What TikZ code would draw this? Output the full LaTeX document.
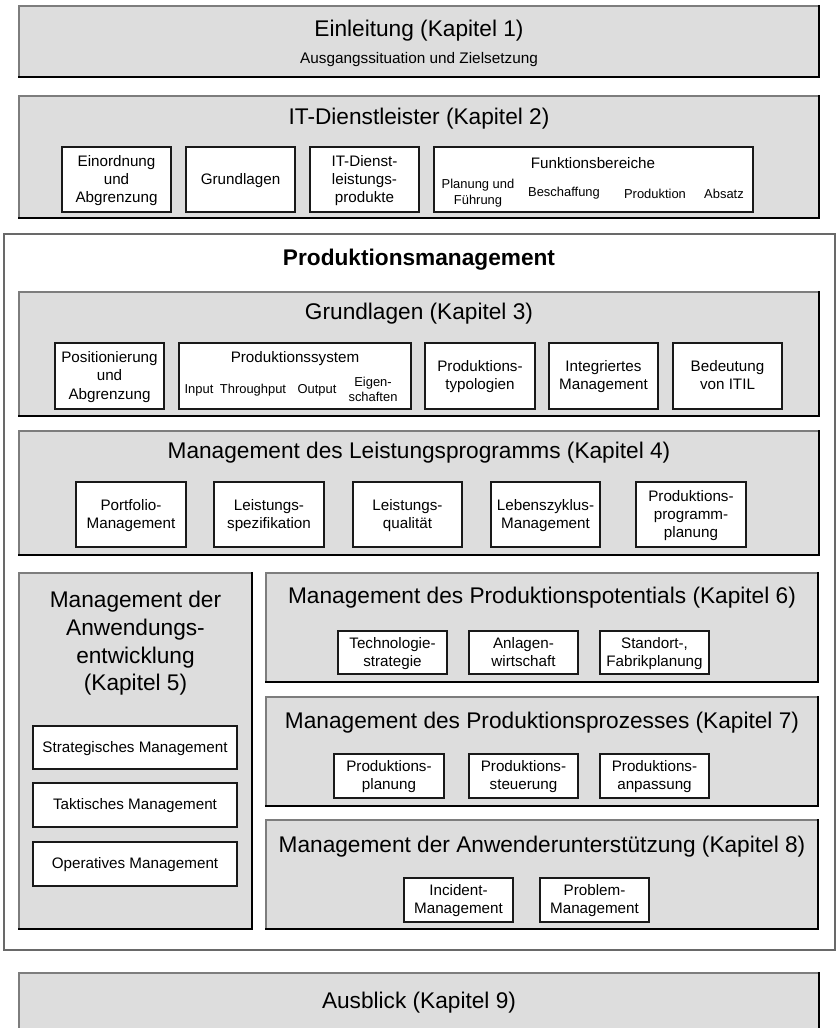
\documentclass[tikz,border=0pt]{standalone}
\usepackage{fontspec}
\setmainfont{Liberation Sans}
\definecolor{boxgray}{RGB}{221,221,221}
\definecolor{lightedge}{RGB}{125,125,125}
\definecolor{outeredge}{RGB}{105,105,105}
\newcommand\mybox[7]{%
  \node[#6, minimum width={(#4-#2)*0.75pt}, minimum height={(#5-#3)*0.75pt}]
    (#1) at ({(#2+#4)/2},{(#3+#5)/2}) {#7};}
\newcommand\mygbox[5]{%
  \mybox{#1}{#2}{#3}{#4}{#5}{gbox}{}
  \draw[topedge] (#1.south west) |- (#1.north east);
  \draw[botedge] (#1.south west) -| (#1.north east);}
\begin{document}
\begin{tikzpicture}[x=0.75pt, y=-0.75pt,
  gbox/.style={fill=boxgray, inner sep=0pt, outer sep=0pt},
  topedge/.style={draw=lightedge, line width=0.8pt},
  botedge/.style={draw=black, line width=1.0pt, line cap=rect},
  wbox/.style={draw=black!90, fill=white, line width=0.85pt, inner sep=0pt, outer sep=0pt,
    align=center, text depth=1pt, font=\fontsize{11.4}{13.7}\selectfont},
  obox/.style={draw=outeredge, fill=white, line width=0.9pt, inner sep=0pt, outer sep=0pt},
  title/.style={inner sep=0pt, font=\fontsize{17}{20.8}\selectfont, align=center},
  sub/.style={inner sep=0pt, font=\fontsize{9.7}{11.5}\selectfont, align=center},
  mid/.style={inner sep=0pt, font=\fontsize{11.4}{13.7}\selectfont, align=center}]
\useasboundingbox (0,0) rectangle (836,1028);
\fill[white] (0,0) rectangle (836,1028);

% Kapitel 1
\mygbox{k1}{19}{6}{819}{77}
\node[title] (k1t) at (419,31) {Einleitung (Kapitel 1)};
\node[mid, font=\fontsize{11.5}{13}\selectfont] (k1s) at (419,60) {Ausgangssituation und Zielsetzung};

% Kapitel 2
\mygbox{k2}{19}{96}{819}{218}
\node[title] (k2t) at (419,119) {IT-Dienstleister (Kapitel 2)};
\mybox{k2a}{62}{147}{171}{212}{wbox}{Einordnung\\und\\Abgrenzung}
\mybox{k2b}{186}{147}{295}{212}{wbox}{Grundlagen}
\mybox{k2c}{310}{147}{419}{212}{wbox}{IT-Dienst-\\leistungs-\\produkte}
\mybox{k2d}{434}{147}{753}{212}{wbox}{}
\node[mid] (k2dt) at (593,163) {Funktionsbereiche};
\node[sub, font=\fontsize{9.7}{12}\selectfont] (k2d1) at (478,193.5) {Planung und\\Führung};
\node[sub] (k2d2) at (564,193.5) {Beschaffung};
\node[sub] (k2d3) at (655,193.5) {Produktion};
\node[sub] (k2d4) at (724,193.5) {Absatz};

% Produktionsmanagement
\mybox{pm}{4}{234}{835}{950}{obox}{}
\node[inner sep=0pt, font=\fontsize{17}{20}\selectfont\bfseries] (pmt) at (419,260) {Produktionsmanagement};

% Kapitel 3
\mygbox{k3}{19}{292}{819}{416}
\node[title] (k3t) at (419,314) {Grundlagen (Kapitel 3)};
\mybox{k3a}{55}{343}{164}{409}{wbox}{Positionierung\\und\\Abgrenzung}
\mybox{k3b}{179}{343}{411}{409}{wbox}{}
\node[mid] (k3bt) at (295,358.5) {Produktionssystem};
\node[sub] (k3b1) at (199,390) {Input};
\node[sub] (k3b2) at (253,390) {Throughput};
\node[sub] (k3b3) at (317,390) {Output};
\node[sub, font=\fontsize{9.7}{10.8}\selectfont] (k3b4) at (373,389.5) {Eigen-\\schaften};
\mybox{k3c}{425}{343}{535}{409}{wbox}{Produktions-\\typologien}
\mybox{k3d}{549}{343}{658}{409}{wbox}{Integriertes\\Management}
\mybox{k3e}{673}{343}{782}{409}{wbox}{Bedeutung\\von ITIL}

% Kapitel 4
\mygbox{k4}{19}{431}{819}{555}
\node[title] (k4t) at (419,453) {Management des Leistungsprogramms (Kapitel 4)};
\mybox{k4a}{76}{482}{186}{547}{wbox}{Portfolio-\\Management}
\mybox{k4b}{214}{482}{324}{547}{wbox}{Leistungs-\\spezifikation}
\mybox{k4c}{353}{482}{462}{547}{wbox}{Leistungs-\\qualität}
\mybox{k4d}{491}{482}{600}{547}{wbox}{Lebenszyklus-\\Management}
\mybox{k4e}{636}{482}{746}{547}{wbox}{Produktions-\\programm-\\planung}

% Kapitel 5
\mygbox{k5}{19}{573}{252}{929}
\node[title] (k5t) at (135.5,643.5) {Management der\\Anwendungs-\\entwicklung\\(Kapitel 5)};
\mybox{k5a}{33}{726}{237}{769}{wbox}{Strategisches Management}
\mybox{k5b}{33}{783}{237}{827}{wbox}{Taktisches Management}
\mybox{k5c}{33}{842}{237}{886}{wbox}{Operatives Management}

% Kapitel 6
\mygbox{k6}{266}{573}{818}{682}
\node[title] (k6t) at (542,598) {Management des Produktionspotentials (Kapitel 6)};
\mybox{k6a}{338}{631}{447}{674}{wbox}{Technologie-\\strategie}
\mybox{k6b}{469}{631}{578}{674}{wbox}{Anlagen-\\wirtschaft}
\mybox{k6c}{600}{631}{709}{674}{wbox}{Standort-,\\Fabrikplanung}

% Kapitel 7
\mygbox{k7}{266}{697}{818}{806}
\node[title] (k7t) at (542,723) {Management des Produktionsprozesses (Kapitel 7)};
\mybox{k7a}{334}{754}{444}{798}{wbox}{Produktions-\\planung}
\mybox{k7b}{469}{754}{578}{798}{wbox}{Produktions-\\steuerung}
\mybox{k7c}{600}{754}{709}{798}{wbox}{Produktions-\\anpassung}

% Kapitel 8
\mygbox{k8}{266}{820}{818}{929}
\node[title] (k8t) at (542,847) {Management der Anwenderunterstützung (Kapitel 8)};
\mybox{k8a}{404}{878}{513}{922}{wbox}{Incident-\\Management}
\mybox{k8b}{540}{878}{649}{922}{wbox}{Problem-\\Management}

% Kapitel 9
\mygbox{k9}{19}{973}{819}{1045}
\node[title] (k9t) at (419,1003) {Ausblick (Kapitel 9)};
\end{tikzpicture}
\end{document}
